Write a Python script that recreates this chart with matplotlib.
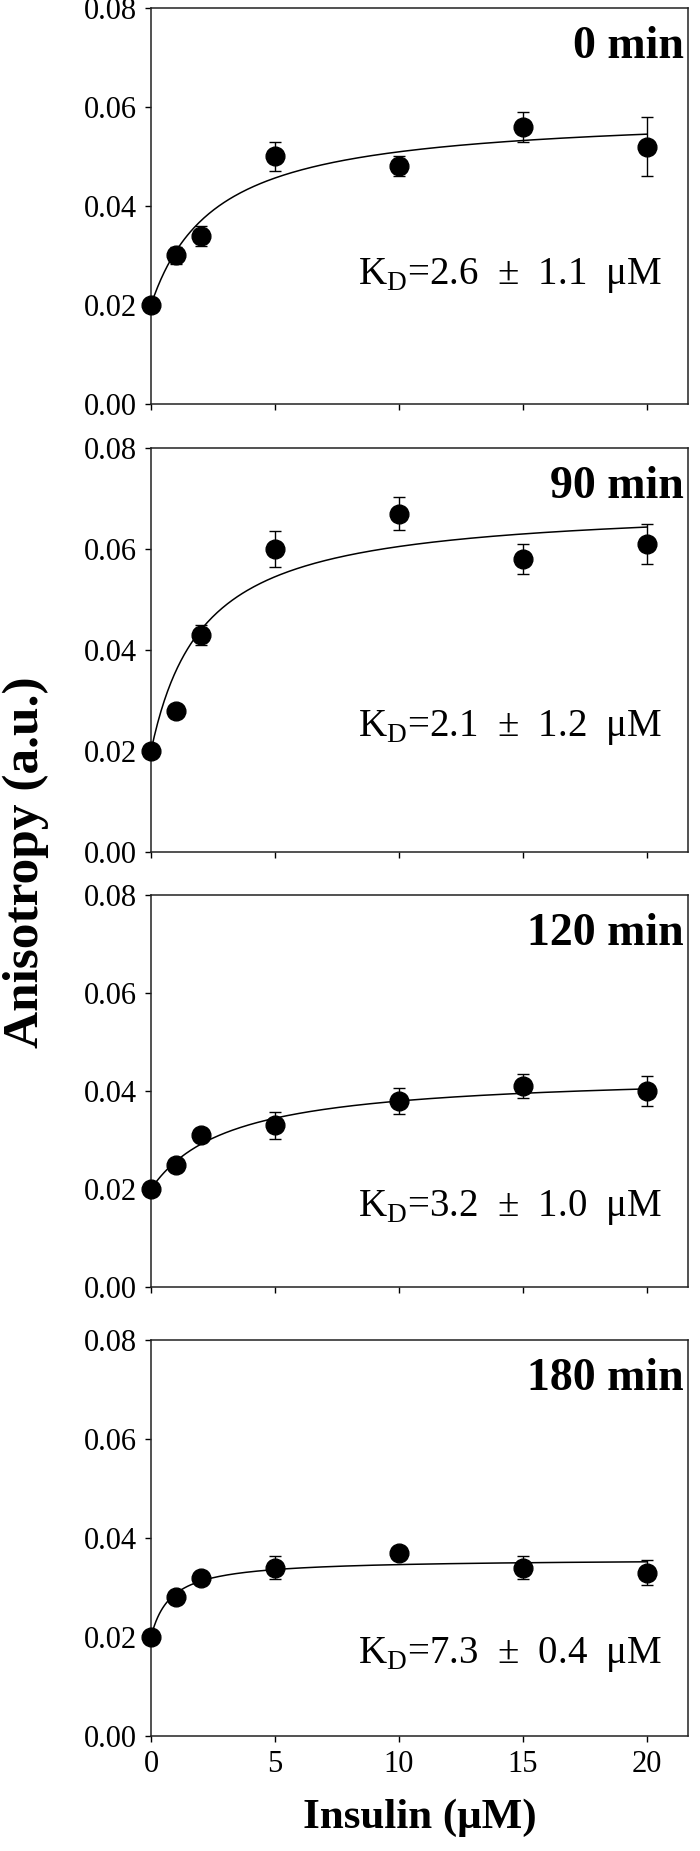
import numpy as np
import matplotlib
matplotlib.use("Agg")
import matplotlib.pyplot as plt

plt.rcParams['font.family'] = ['Liberation Serif', 'DejaVu Serif']
plt.rcParams['mathtext.fontset'] = 'custom'
plt.rcParams['mathtext.rm'] = 'Liberation Serif'

# insulin concentrations (uM)
insulin = [0, 1, 2, 5, 10, 15, 20]

# anisotropy per incubation time
aniso_0 = [0.020, 0.030, 0.034, 0.050, 0.048, 0.056, 0.052]
err_0 = [0.0, 0.0018, 0.002, 0.003, 0.002, 0.003, 0.006]
aniso_90 = [0.020, 0.028, 0.043, 0.060, 0.067, 0.058, 0.061]
err_90 = [0.0, 0.0, 0.002, 0.0035, 0.0033, 0.0029, 0.0039]
aniso_120 = [0.020, 0.025, 0.031, 0.033, 0.038, 0.041, 0.040]
err_120 = [0.0, 0.0, 0.001, 0.0028, 0.0026, 0.0024, 0.0031]
aniso_180 = [0.020, 0.028, 0.032, 0.034, 0.037, 0.034, 0.033]
err_180 = [0.0, 0.0, 0.001, 0.0023, 0.0008, 0.0023, 0.0025]

# fitted binding curves: baseline, amplitude, apparent Kd of the drawn curve
fit_base = [0.020, 0.020, 0.020, 0.020]
fit_amp = [0.039, 0.049, 0.0237, 0.0158]
fit_k = [2.6, 2.1, 3.2, 0.8]

titles = ['0 min', '90 min', '120 min', '180 min']
kd_labels = ['2.6  ±  1.1', '2.1  ±  1.2', '3.2  ±  1.0', '7.3  ±  0.4']
kd_text_y = [0.0243, 0.0230, 0.0144, 0.0148]

yticks = [0.00, 0.02, 0.04, 0.06, 0.08]
xticks = [0, 5, 10, 15, 20]

series = [(aniso_0, err_0), (aniso_90, err_90), (aniso_120, err_120), (aniso_180, err_180)]

# panel boxes in figure pixels (top, bottom)
W, H = 700, 1851
boxes = [(8, 404), (448, 852), (895, 1287), (1340, 1736)]
left, right = 151, 688

fig = plt.figure(figsize=(W / 100, H / 100), dpi=100)

for i, ((y, e), (top, bot)) in enumerate(zip(series, boxes)):
    ax = fig.add_axes([left / W, 1 - bot / H, (right - left) / W, (bot - top) / H])
    ax.errorbar(insulin, y, yerr=e, fmt='none', ecolor='black', elinewidth=1.0,
                capsize=4.5, capthick=1.0, zorder=2)
    ax.plot(insulin, y, 'o', color='black', markersize=13.5, zorder=3, clip_on=False)
    xs = np.linspace(0, 20, 300)
    ax.plot(xs, fit_base[i] + fit_amp[i] * xs / (fit_k[i] + xs), color='black', lw=1.1, zorder=2)

    ax.set_xlim(0, 21.65)
    ax.set_ylim(0, 0.08)
    ax.set_yticks(yticks)
    ax.set_yticklabels(['%.2f' % t for t in yticks])
    ax.set_xticks(xticks)
    if i < 3:
        ax.set_xticklabels([])
    ax.tick_params(direction='out', length=4, width=1.0, labelsize=22, pad=6, colors='black')
    for s in ax.spines.values():
        s.set_linewidth(1.1)
        s.set_color('#222222')

    ax.text(0.992, 0.955, titles[i], transform=ax.transAxes, ha='right', va='top',
            fontsize=33, fontweight='bold')
    ax.text(20.6, kd_text_y[i], r'K$_\mathregular{D}$=' + kd_labels[i] + '  μM',
            ha='right', va='baseline', fontsize=28)

fig.text(26 / W, 1 - 862 / H, 'Anisotropy (a.u.)', rotation=90, ha='center', va='center',
         fontsize=37, fontweight='bold')
fig.text((left + right) / 2 / W, 1 - 1818 / H, 'Insulin (μM)', ha='center', va='center',
         fontsize=31, fontweight='bold')

fig.savefig('out.png', dpi=100)
